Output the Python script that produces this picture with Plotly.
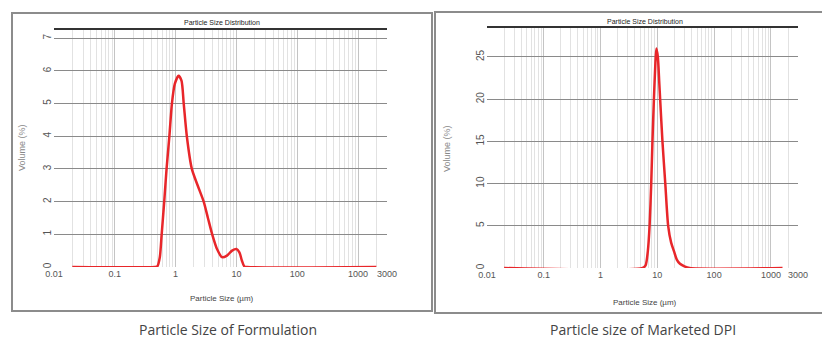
import plotly.graph_objects as go

# ---------------- data ----------------
form_size = [0.02, 0.45, 0.5, 0.55, 0.59, 0.65, 0.71, 0.79, 0.87, 0.97, 1.12, 1.25,
             1.36, 1.53, 1.85, 2.3, 2.9, 3.4, 4.0, 4.8, 5.8, 7.0, 8.5, 10.0, 11.2,
             12.3, 13.5, 15.0, 2000]
form_vol = [0, 0, 0.02, 0.3, 1.0, 2.0, 3.0, 4.0, 5.0, 5.6, 5.85, 5.7,
            5.0, 4.0, 3.0, 2.5, 2.0, 1.5, 1.0, 0.55, 0.3, 0.35, 0.5, 0.55, 0.45,
            0.2, 0.02, 0, 0]

dpi_size = [0.02, 5.5, 6.2, 6.8, 7.3, 7.8, 8.2, 8.7, 9.2, 9.6, 10.2, 10.8, 11.2,
            12.3, 13.8, 15.5, 17.5, 19.6, 22, 25, 30, 37, 1600]
dpi_vol = [0, 0, 0.3, 2, 5, 10, 15, 20, 24, 26, 25, 22, 20,
           15, 10, 5, 3, 2, 1.0, 0.5, 0.2, 0, 0]

x_tickvals = [0.01, 0.1, 1, 10, 100, 1000, 3000]
x_ticktext = ["0.01", "0.1", "1", "10", "100", "1000", "3000"]
form_yticks = [0, 1, 2, 3, 4, 5, 6, 7]
dpi_yticks = [0, 5, 10, 15, 20, 25]

plot_title = "Particle Size Distribution"
x_title = "Particle Size (µm)"
y_title = "Volume (%)"
captions = ["Particle Size of Formulation", "Particle size of Marketed DPI"]

# ---------------- figure ----------------
# the page body has an 8 px margin, so the figure is drawn 8 px in from the corner
OFF = 8
W, H = 830 - OFF, 338 - OFF
def px(x): return (x - OFF) / W
def py(y): return 1 - (y - OFF) / H

fig = go.Figure()
RED = "#e8262a"
fig.add_trace(go.Scatter(x=form_size, y=form_vol, mode="lines",
                         line=dict(color=RED, width=2.5, shape="spline", smoothing=0.7),
                         xaxis="x", yaxis="y", showlegend=False, hoverinfo="skip"))
fig.add_trace(go.Scatter(x=dpi_size, y=dpi_vol, mode="lines",
                         line=dict(color=RED, width=2.5, shape="spline", smoothing=0.7),
                         xaxis="x2", yaxis="y2", showlegend=False, hoverinfo="skip"))

tickfont = dict(family="Liberation Sans Narrow, Liberation Sans, Arial", size=9, color="#555")

def xaxis(domain, anchor):
    return dict(type="log", domain=domain, anchor=anchor, range=[-2, 3.477],
                tickmode="array", tickvals=x_tickvals, ticktext=x_ticktext,
                tickfont=tickfont, showgrid=True, gridcolor="#c4c4c4", gridwidth=1,
                minor=dict(showgrid=True, gridcolor="#e2e2e2", gridwidth=1, dtick="D1"),
                showline=False, zeroline=False, ticks="", automargin=False,
                fixedrange=True)

def yaxis(domain, anchor, rng, ticks):
    return dict(domain=domain, anchor=anchor, range=rng, tickmode="array",
                tickvals=ticks, tickangle=-90, tickfont=dict(tickfont, size=10),
                showgrid=True, gridcolor="#8a8a8a", gridwidth=1,
                showline=False, zeroline=False, ticks="", automargin=False,
                fixedrange=True)

fig.update_layout(
    width=W, height=H, autosize=False,
    margin=dict(l=0, r=0, t=0, b=0),
    paper_bgcolor="white", plot_bgcolor="white",
    xaxis=xaxis([px(54), px(387)], "y"),
    yaxis=yaxis([py(267), py(29)], "x", [0, 7.28], form_yticks),
    xaxis2=xaxis([px(487), px(798)], "y2"),
    yaxis2=yaxis([py(268), py(27)], "x2", [0, 28.55], dpi_yticks),
)

shapes = [
    # outer frames
    dict(type="rect", xref="paper", yref="paper", x0=px(12), x1=px(432), y0=py(311), y1=py(13),
         line=dict(color="#8c8c8c", width=2)),
    dict(type="rect", xref="paper", yref="paper", x0=px(435), x1=1.02, y0=py(313), y1=py(12),
         line=dict(color="#8c8c8c", width=2)),
    # dark top border of each plot
    dict(type="line", xref="x domain", yref="y domain", x0=0, x1=1, y0=1, y1=1,
         line=dict(color="#333", width=2)),
    dict(type="line", xref="x2 domain", yref="y2 domain", x0=0, x1=1, y0=1, y1=1,
         line=dict(color="#333", width=2)),
]
fig.update_layout(shapes=shapes)

small = dict(family="Liberation Sans Narrow, Liberation Sans, Arial", size=8, color="#444")
ytitle_font = dict(family="Liberation Sans, Arial", size=9, color="#888")
cap_font = dict(family="Open Sans, Noto Sans, sans-serif", size=14, color="#444")
ann = []
for cx, ty, xty, yx, capx in [(222, 23, 298, 22, 228), (645, 21, 302, 447, 643)]:
    ann.append(dict(x=px(cx), y=py(ty), xref="paper", yref="paper", text=plot_title,
                    showarrow=False, font=dict(small, size=7, color="#222"),
                    xanchor="center", yanchor="middle"))
    ann.append(dict(x=px(cx), y=py(xty), xref="paper", yref="paper", text=x_title,
                    showarrow=False, font=small, xanchor="center", yanchor="middle"))
    ann.append(dict(x=px(yx), y=py(148), xref="paper", yref="paper", text=y_title,
                    showarrow=False, font=ytitle_font, textangle=-90,
                    xanchor="center", yanchor="middle"))
    ann.append(dict(x=px(capx), y=py(329), xref="paper", yref="paper", text=None,
                    showarrow=False, font=cap_font, xanchor="center", yanchor="middle"))
ann[3]["text"] = captions[0]
ann[7]["text"] = captions[1]
fig.update_layout(annotations=ann)

fig.write_html("out.html")
